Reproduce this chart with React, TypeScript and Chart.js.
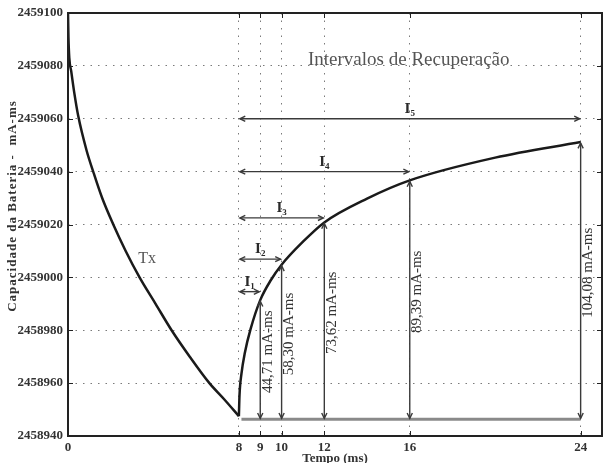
import { useEffect, useRef } from 'react';
import { Chart, registerables } from 'chart.js';
Chart.register(...registerables);

const FONT = '"Liberation Serif", "Times New Roman", serif';

// Discharge curve (Tx)
const txX = [0, 0.02, 0.06, 0.15, 0.3, 0.48, 0.87, 1.18, 1.6, 2.12, 2.7, 3.35, 4.1, 4.85, 5.7, 6.62, 7.3, 8];
const txY = [2459100, 2459091, 2459083, 2459078, 2459069.5, 2459061, 2459048, 2459040, 2459030, 2459020, 2459010, 2459000, 2458990, 2458980, 2458970, 2458960, 2458954, 2458947.5];

// Recovery curve
const recX = [8, 8.03, 8.12, 8.28, 8.55, 9, 9.5, 10, 11, 12, 14, 16, 20, 24];
const recY = [2458947.5, 2458955.5, 2458963.5, 2458971.5, 2458980.5, 2458991.4, 2458999, 2459004.8, 2459013.5, 2459020.8, 2459029.8, 2459036.7, 2459045.3, 2459051.2];

// Axes
const xTicks = [0, 8, 9, 10, 12, 16, 24];
const yMin = 2458940;
const yMax = 2459100;
const yStep = 20;

// Recovery intervals
const intervalStart = 8;
const intervalEnds = [9, 10, 12, 16, 24];
const intervalArrowY = [2458994.6, 2459006.9, 2459022.5, 2459040, 2459060];
const intervalNames = ['1', '2', '3', '4', '5'];
const intervalTops = [2458991.4, 2459004.8, 2459020.8, 2459036.7, 2459051.2];
const intervalValues = ['44,71 mA-ms', '58,30 mA-ms', '73,62 mA-ms', '89,39 mA-ms', '104,08 mA-ms'];
const baselineValue = 2458946.3;
const baselineStart = 8.12;

const titleText = 'Intervalos de Recuperação';
const curveLabel = 'Tx';
const xTitle = 'Tempo (ms)';
const yTitle = 'Capacidade da Bateria -  mA-ms';

function head(ctx: CanvasRenderingContext2D, x: number, y: number, ang: number) {
  const L = 6, a = 0.45;
  ctx.beginPath();
  ctx.moveTo(x - L * Math.cos(ang - a), y - L * Math.sin(ang - a));
  ctx.lineTo(x, y);
  ctx.lineTo(x - L * Math.cos(ang + a), y - L * Math.sin(ang + a));
  ctx.stroke();
}

function dblArrow(ctx: CanvasRenderingContext2D, x1: number, y1: number, x2: number, y2: number) {
  ctx.beginPath();
  ctx.moveTo(x1, y1);
  ctx.lineTo(x2, y2);
  ctx.stroke();
  const ang = Math.atan2(y2 - y1, x2 - x1);
  head(ctx, x2, y2, ang);
  head(ctx, x1, y1, ang + Math.PI);
}

const annot = {
  id: 'annot',
  afterDatasetsDraw(chart: any) {
    const { ctx, chartArea: ca, scales } = chart;
    const x = scales.x, y = scales.y;
    ctx.save();
    // baseline
    ctx.strokeStyle = '#8a8a8a';
    ctx.lineWidth = 3;
    ctx.beginPath();
    ctx.moveTo(x.getPixelForValue(baselineStart), y.getPixelForValue(baselineValue));
    ctx.lineTo(x.getPixelForValue(intervalEnds[intervalEnds.length - 1]), y.getPixelForValue(baselineValue));
    ctx.stroke();

    ctx.strokeStyle = '#3a3a3a';
    ctx.lineWidth = 1.4;
    const x0 = x.getPixelForValue(intervalStart);
    const yb = y.getPixelForValue(baselineValue);
    intervalEnds.forEach((e, i) => {
      const xe = x.getPixelForValue(e);
      const ya = y.getPixelForValue(intervalArrowY[i]);
      dblArrow(ctx, x0 + 1, ya, xe - 1, ya);
      const yt = y.getPixelForValue(intervalTops[i]);
      dblArrow(ctx, xe, yb - 1, xe, yt + 1);
      // interval label
      const cx = (x0 + xe) / 2;
      ctx.fillStyle = '#2a2a2a';
      ctx.textBaseline = 'alphabetic';
      ctx.font = `bold 15px ${FONT}`;
      const wI = ctx.measureText('I').width;
      ctx.font = `bold 9px ${FONT}`;
      const wS = ctx.measureText(intervalNames[i]).width;
      const sx = cx - (wI + wS) / 2;
      ctx.font = `bold 15px ${FONT}`;
      ctx.textAlign = 'left';
      ctx.fillText('I', sx, ya - 6);
      ctx.font = `bold 9px ${FONT}`;
      ctx.fillText(intervalNames[i], sx + wI, ya - 3);
      // value label (rotated)
      ctx.save();
      ctx.font = `15px ${FONT}`;
      ctx.fillStyle = '#333';
      ctx.translate(xe + 7.5, (yb + yt) / 2 - 8);
      ctx.rotate(-Math.PI / 2);
      ctx.textAlign = 'center';
      ctx.textBaseline = 'middle';
      ctx.fillText(intervalValues[i], 0, 0);
      ctx.restore();
    });

    // texts
    ctx.fillStyle = '#555';
    ctx.font = `19px ${FONT}`;
    ctx.textAlign = 'center';
    ctx.textBaseline = 'alphabetic';
    ctx.fillText(titleText, x.getPixelForValue(16) - 1, y.getPixelForValue(2459080) - 1);
    ctx.font = `16px ${FONT}`;
    ctx.textBaseline = 'middle';
    ctx.fillText(curveLabel, x.getPixelForValue(3.7), y.getPixelForValue(2459007));

    // axis titles
    ctx.fillStyle = '#333';
    ctx.font = `bold 13px ${FONT}`;
    ctx.textBaseline = 'top';
    ctx.fillText(xTitle, (ca.left + ca.right) / 2, 452);
    ctx.save();
    ctx.translate(13, 206);
    ctx.rotate(-Math.PI / 2);
    ctx.textBaseline = 'middle';
    (ctx as any).letterSpacing = '1px';
    ctx.fillText(yTitle, 0, 0);
    ctx.restore();

    // inward tick marks
    ctx.strokeStyle = '#222';
    ctx.lineWidth = 1;
    ctx.beginPath();
    xTicks.forEach((v) => {
      const px = Math.round(x.getPixelForValue(v)) + 0.5;
      ctx.moveTo(px, ca.top); ctx.lineTo(px, ca.top + 5);
      ctx.moveTo(px, ca.bottom); ctx.lineTo(px, ca.bottom - 5);
    });
    for (let v = yMin; v <= yMax; v += yStep) {
      const py = Math.round(y.getPixelForValue(v)) + 0.5;
      ctx.moveTo(ca.left, py); ctx.lineTo(ca.left + 5, py);
      ctx.moveTo(ca.right, py); ctx.lineTo(ca.right - 5, py);
    }
    ctx.stroke();

    // box
    ctx.strokeStyle = '#222';
    ctx.lineWidth = 2;
    ctx.strokeRect(ca.left, ca.top, ca.right - ca.left, ca.bottom - ca.top);
    ctx.restore();
  },
};

export default function App() {
  const ref = useRef<HTMLCanvasElement>(null);
  useEffect(() => {
    const tickFont = { family: FONT, size: 13, weight: 'bold' as const };
    const chart = new Chart(ref.current!, {
      type: 'line',
      data: {
        datasets: [
          {
            data: txX.map((v, i) => ({ x: v, y: txY[i] })),
            borderColor: '#1a1a1a',
            borderWidth: 2.5,
            pointRadius: 0,
            cubicInterpolationMode: 'monotone',
            fill: false,
          },
          {
            data: recX.map((v, i) => ({ x: v, y: recY[i] })),
            borderColor: '#1a1a1a',
            borderWidth: 2.5,
            pointRadius: 0,
            cubicInterpolationMode: 'monotone',
            fill: false,
          },
        ],
      },
      options: {
        animation: false,
        responsive: false,
        devicePixelRatio: 1,
        layout: { padding: { top: 13, right: 6, left: 0, bottom: 0 } },
        plugins: { legend: { display: false }, tooltip: { enabled: false } },
        scales: {
          x: {
            type: 'linear',
            min: 0,
            max: 25,
            afterBuildTicks: (s: any) => {
              s.ticks = xTicks.map((v) => ({ value: v }));
            },
            afterFit: (s: any) => {
              s.height = 27;
            },
            grid: {
              color: (c: any) => (c.tick && c.tick.value === 0 ? 'rgba(0,0,0,0)' : '#7a7a7a'),
              lineWidth: 1,
              drawTicks: false,
            },
            border: { display: false, dash: [1.5, 6] },
            ticks: {
              callback: (v: any) => String(v),
              font: tickFont,
              color: '#333',
              padding: 4,
              maxRotation: 0,
              autoSkip: false,
            },
          },
          y: {
            min: yMin,
            max: yMax,
            afterFit: (s: any) => {
              s.width = 68;
            },
            grid: { color: '#7a7a7a', lineWidth: 1, drawTicks: false },
            border: { display: false, dash: [1.5, 6] },
            ticks: {
              stepSize: yStep,
              callback: (v: any) => String(v),
              font: tickFont,
              color: '#333',
              padding: 5,
            },
          },
        },
      },
      plugins: [annot],
    });
    return () => chart.destroy();
  }, []);
  return (
    <div style={{ position: 'fixed', left: 0, top: 0, width: 608, height: 463, background: '#fff' }}>
      <canvas ref={ref} width={608} height={463} style={{ display: 'block' }} />
    </div>
  );
}
